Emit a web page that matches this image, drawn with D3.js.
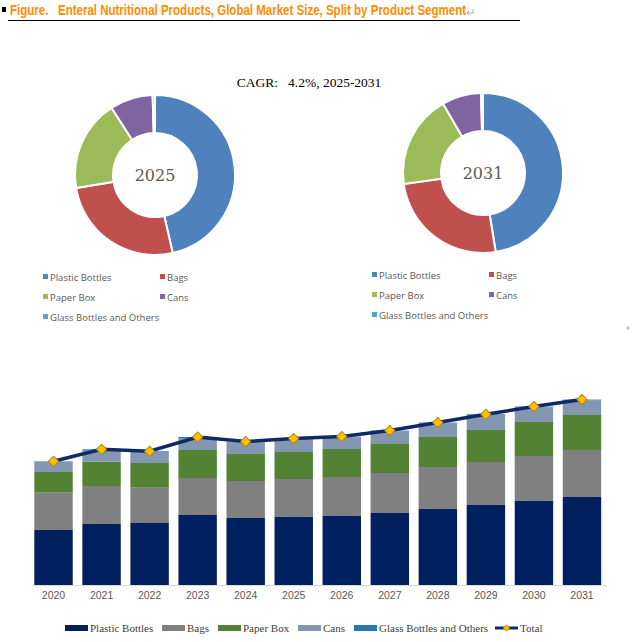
<!DOCTYPE html>
<html>
<head>
<meta charset="utf-8">
<script src="https://cdn.jsdelivr.net/npm/d3@7"></script>
<style>
  body { margin: 0; background: #fff; }
  svg { display: block; }
  .pre { white-space: pre; }
</style>
</head>
<body>
<div id="chart"></div>
<script>
// Market size by product segment
const years = [2020, 2021, 2022, 2023, 2024, 2025, 2026, 2027, 2028, 2029, 2030, 2031];
const segments = ["Plastic Bottles", "Bags", "Paper Box", "Cans", "Glass Bottles and Others"];
const plastic = [55, 61, 62, 70, 67, 68, 69, 72, 76, 80, 84, 88];
const bags = [37.3, 38, 35.3, 37, 37, 38, 39, 40, 42, 43, 45, 47];
const paper = [20.7, 24.3, 24.7, 28, 27, 27, 28, 29, 30, 32, 34, 35];
const cans = [10.3, 11.7, 11, 12, 11.7, 12.7, 11.7, 12.7, 13.7, 15, 14.7, 14.7];
const glass = [0.4, 0.7, 0.7, 1, 0.7, 0.7, 0.7, 0.7, 0.7, 0.7, 0.7, 0.7];
const donutYears = [2025, 2031];
const cagrText = "CAGR:   4.2%, 2025-2031";

const barColors = ["#002060", "#808080", "#548235", "#8497b0", "#2e75b6"];
const pieColors = ["#4f81bd", "#c0504d", "#9bbb59", "#8064a2", "#4bacc6"];

const svgWidth = 632;
const svgHeight = 642;

const svg = d3.select("#chart")
    .append("svg")
    .attr("width", svgWidth)
    .attr("height", svgHeight);

// Title block
svg.append("rect")
    .attr("x", 2).attr("y", 7)
    .attr("width", 4).attr("height", 5)
    .attr("fill", "#000");

svg.append("text")
    .attr("class", "pre")
    .attr("x", 10)
    .attr("y", 15)
    .attr("font-family", "'Liberation Sans Narrow', 'Liberation Sans', Arial, sans-serif")
    .attr("font-weight", "bold")
    .attr("font-size", 14.5)
    .attr("fill", "#ff8c00")
    .attr("textLength", 456)
    .attr("lengthAdjust", "spacingAndGlyphs")
    .text("Figure.   Enteral Nutritional Products, Global Market Size, Split by Product Segment");

// small paragraph marks (drawn, not text)
svg.append("path")
    .attr("d", "M473,9V13H467M469,11L467,13L469,15")
    .attr("fill", "none")
    .attr("stroke", "#999")
    .attr("stroke-width", 0.8);

svg.append("path")
    .attr("d", "M626,328H630M628,326V330")
    .attr("fill", "none")
    .attr("stroke", "#999")
    .attr("stroke-width", 0.8);

svg.append("line")
    .attr("x1", 8).attr("x2", 520)
    .attr("y1", 20.5).attr("y2", 20.5)
    .attr("stroke", "#000")
    .attr("stroke-width", 1);

// CAGR label
svg.append("text")
    .attr("class", "pre")
    .attr("x", 309)
    .attr("y", 87)
    .attr("text-anchor", "middle")
    .attr("font-family", "'Liberation Serif', 'Times New Roman', serif")
    .attr("font-size", 13.5)
    .attr("fill", "#000")
    .text(cagrText);

// Donuts
const series = [plastic, bags, paper, cans, glass];
const pie = d3.pie().sort(null).value(d => d);
const arc = d3.arc().innerRadius(42).outerRadius(80);

const donutSpots = [
    { cx: 155, cy: 175, legX: 43, legY: 277 },
    { cx: 483, cy: 173, legX: 372, legY: 275 }
];

donutYears.forEach(function(yr, k) {
    const idx = years.indexOf(yr);
    const vals = series.map(s => s[idx]);
    const spot = donutSpots[k];

    const g = svg.append("g")
        .attr("transform", `translate(${spot.cx}, ${spot.cy})`);

    g.selectAll("path")
        .data(pie(vals))
        .enter()
        .append("path")
        .attr("d", arc)
        .attr("fill", (d, i) => pieColors[i])
        .attr("stroke", "#fff")
        .attr("stroke-width", 2);

    g.append("text")
        .attr("y", 6)
        .attr("text-anchor", "middle")
        .attr("font-family", "'DejaVu Serif', 'Liberation Serif', serif")
        .attr("font-size", 16)
        .attr("fill", "#595959")
        .text(yr);

    // legend
    const leg = svg.append("g");
    segments.forEach(function(name, i) {
        const lx = spot.legX + (i % 2) * 117;
        const ly = spot.legY + Math.floor(i / 2) * 20;
        leg.append("rect")
            .attr("x", lx).attr("y", ly - 3)
            .attr("width", 5).attr("height", 5)
            .attr("fill", pieColors[i]);
        leg.append("text")
            .attr("x", lx + 7)
            .attr("y", ly + 1)
            .attr("dominant-baseline", "middle")
            .attr("font-family", "'Open Sans', 'Liberation Sans', sans-serif")
            .attr("font-size", 9.5)
            .attr("fill", "#595959")
            .text(name);
    });
});

// Stacked bars
const baseY = 585;
const x = d3.scaleBand()
    .domain(years)
    .range([29.5, 606])
    .paddingInner(0.2)
    .paddingOuter(0.1);

const y = d3.scaleLinear()
    .domain([0, 200])
    .range([baseY, baseY - 200]);

const rows = years.map((yr, i) => ({
    year: yr,
    plastic: plastic[i],
    bags: bags[i],
    paper: paper[i],
    cans: cans[i],
    glass: glass[i]
}));
const keys = ["plastic", "bags", "paper", "cans", "glass"];
const stacked = d3.stack().keys(keys)(rows);

const barGroup = svg.append("g");
barGroup.selectAll("g")
    .data(stacked)
    .enter()
    .append("g")
    .attr("fill", (d, i) => barColors[i])
    .selectAll("rect")
    .data(d => d)
    .enter()
    .append("rect")
    .attr("x", d => x(d.data.year))
    .attr("width", x.bandwidth())
    .attr("y", d => y(d[1]))
    .attr("height", d => y(d[0]) - y(d[1]));

// x axis
const xAxis = svg.append("g")
    .attr("transform", `translate(0, ${baseY})`)
    .call(d3.axisBottom(x).tickSize(0).tickPadding(7));
xAxis.select(".domain")
    .attr("stroke", "#d9d9d9")
    .attr("d", "M33,0.5H607");
xAxis.selectAll("text")
    .attr("font-family", "'Liberation Sans', Arial, sans-serif")
    .attr("font-size", 10.5)
    .attr("fill", "#595959");

// Total line with markers
const totals = years.map((yr, i) => plastic[i] + bags[i] + paper[i] + cans[i] + glass[i]);
const line = d3.line()
    .x((d, i) => x(years[i]) + x.bandwidth() / 2)
    .y(d => y(d));

svg.append("path")
    .datum(totals)
    .attr("d", line)
    .attr("fill", "none")
    .attr("stroke", "#0d2a66")
    .attr("stroke-width", 3.5);

svg.selectAll(".marker")
    .data(totals)
    .enter()
    .append("path")
    .attr("class", "marker")
    .attr("d", d3.symbol().type(d3.symbolSquare).size(52))
    .attr("transform", (d, i) => `translate(${x(years[i]) + x.bandwidth() / 2}, ${y(d)}) rotate(45)`)
    .attr("fill", "#ffc000")
    .attr("stroke", "#b8860b")
    .attr("stroke-width", 1);

// Bottom legend
const legendItems = [
    { name: "Plastic Bottles", x: 65, color: barColors[0] },
    { name: "Bags", x: 162, color: barColors[1] },
    { name: "Paper Box", x: 218, color: barColors[2] },
    { name: "Cans", x: 298, color: barColors[3] },
    { name: "Glass Bottles and Others", x: 354, color: barColors[4] }
];
const bl = svg.append("g");
legendItems.forEach(function(item) {
    bl.append("rect")
        .attr("x", item.x).attr("y", 625)
        .attr("width", 23).attr("height", 6)
        .attr("fill", item.color);
    bl.append("text")
        .attr("x", item.x + 25)
        .attr("y", 632)
        .attr("font-family", "'Liberation Serif', 'Times New Roman', serif")
        .attr("font-size", 11)
        .attr("fill", "#404040")
        .text(item.name);
});
bl.append("line")
    .attr("x1", 495).attr("x2", 518)
    .attr("y1", 628).attr("y2", 628)
    .attr("stroke", "#0d2a66")
    .attr("stroke-width", 3);
bl.append("path")
    .attr("d", d3.symbol().type(d3.symbolSquare).size(20))
    .attr("transform", "translate(506.5, 628) rotate(45)")
    .attr("fill", "#ffc000")
    .attr("stroke", "#b8860b")
    .attr("stroke-width", 0.8);
bl.append("text")
    .attr("x", 520)
    .attr("y", 632)
    .attr("font-family", "'Liberation Serif', 'Times New Roman', serif")
    .attr("font-size", 11)
    .attr("fill", "#404040")
    .text("Total");
</script>
</body>
</html>
